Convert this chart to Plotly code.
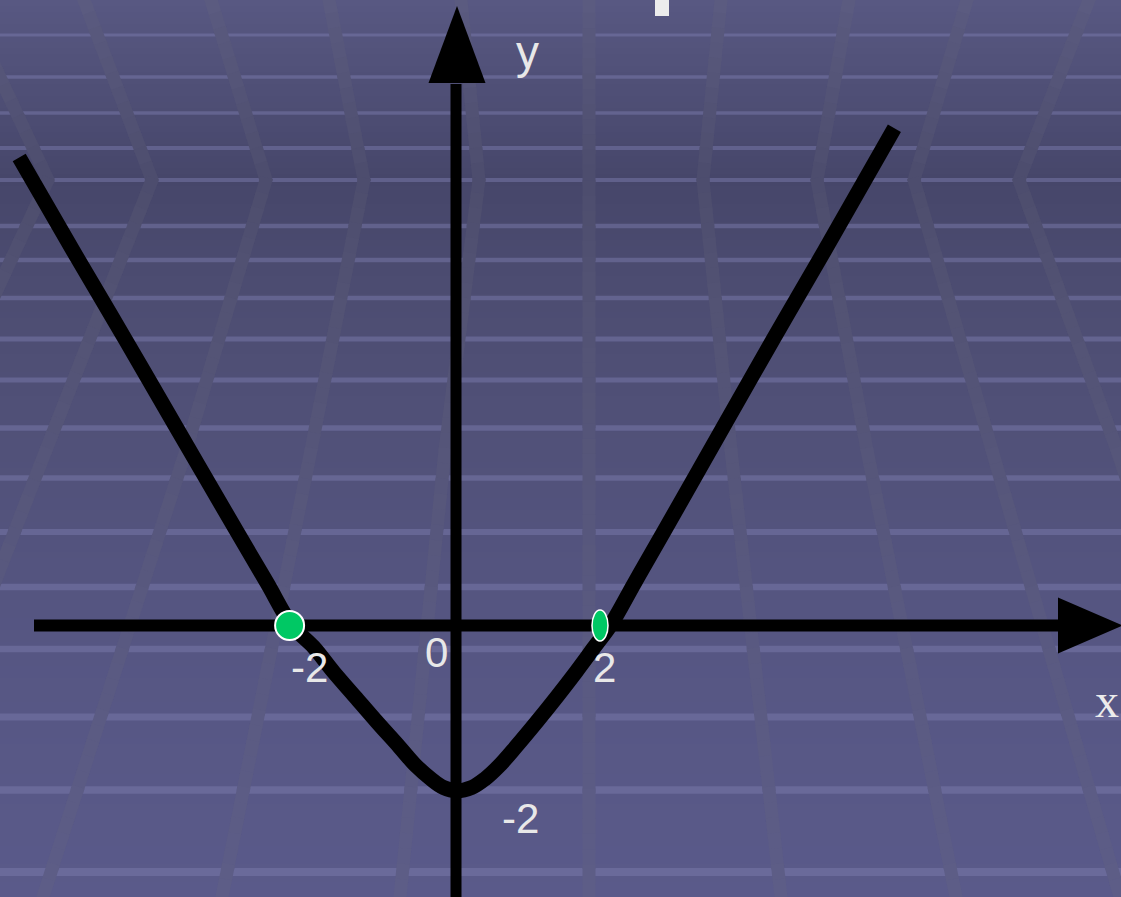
import plotly.graph_objects as go

# ---------------- data ----------------
curve_x = [-5.46, -4.79, -4.13, -3.48, -2.75, -2.36, -2.05,
           -1.78, -1.53, -1.26, -0.99, -0.71, -0.50, -0.31, -0.16,
           0.01,
           0.20, 0.36, 0.54, 0.75, 1.01, 1.26, 1.50, 1.73,
           1.93, 2.23, 2.61, 3.34, 3.96, 4.61, 5.48]
curve_y = [5.64, 4.52, 3.44, 2.36, 1.15, 0.51, 0.00,
           -0.26, -0.56, -0.86, -1.16, -1.46, -1.69, -1.85, -1.95,
           -1.99,
           -1.95, -1.85, -1.69, -1.46, -1.16, -0.86, -0.56, -0.26,
           0.00, 0.51, 1.15, 2.39, 3.44, 4.52, 5.99]

zero_left_x = [-2.08]
zero_left_y = [0.0]
zero_right_x = [1.80]
zero_right_y = [0.0]

x_tick_labels = ["-2", "0", "2"]
x_tick_label_x = [-1.83, -0.24, 1.85]
x_tick_label_y = [-0.51, -0.32, -0.51]
y_tick_labels = ["-2"]
y_tick_label_x = [0.81]
y_tick_label_y = [-2.32]

# ---------------- geometry of the canvas ----------------
W, H = 1121, 897
X0_PX, Y0_PX = 456.0, 625.5     # pixel position of the origin
UX, UY = 80.0, 83.0             # pixels per unit
x_range = [-X0_PX / UX, (W - X0_PX) / UX]
y_range = [(Y0_PX - H) / UY, Y0_PX / UY]


def px2x(px):
    return (px - X0_PX) / UX


def py2y(py):
    return (Y0_PX - py) / UY


def pfx(px):
    return px / W


def pfy(py):
    return 1 - py / H


# background gradient stops (pixel y, rgb)
bg_stops = [(0, (88, 88, 130)), (60, (82, 82, 122)), (180, (70, 70, 106)),
            (300, (77, 77, 114)), (450, (81, 81, 121)), (650, (86, 86, 131)),
            (897, (90, 90, 138))]


def bg(py):
    for (a, ca), (b, cb) in zip(bg_stops[:-1], bg_stops[1:]):
        if a <= py <= b:
            t = (py - a) / (b - a)
            return tuple(ca[i] + (cb[i] - ca[i]) * t for i in range(3))
    return bg_stops[-1][1] if py > 0 else bg_stops[0][1]


def rgb(c):
    return "rgb(%d,%d,%d)" % tuple(int(round(v)) for v in c)


shapes = []
# gradient bands
step = 6
for i in range(0, H, step):
    shapes.append(dict(type="rect", xref="paper", yref="paper", x0=0, x1=1,
                       y0=pfy(min(i + step, H)), y1=pfy(i), layer="below",
                       line=dict(width=0), fillcolor=rgb(bg(i + step / 2))))

# horizontal light lines of the backdrop
hlines = [35, 77, 113, 148, 180, 226, 260, 298, 339, 380, 428, 478, 532, 587, 649, 717, 790, 872]
for py in hlines:
    wdt = 3 + 5 * py / H
    shapes.append(dict(type="line", xref="paper", yref="paper", x0=0, x1=1,
                       y0=pfy(py), y1=pfy(py), layer="below",
                       line=dict(color="rgba(122,122,172,0.5)", width=wdt)))

# faint chevron stripes of the backdrop
stripes = [
    [(-10, 56), (48, 180), (-10, 305)],
    [(84, 0), (152, 180), (46, 450), (-10, 595)],
    [(211, 0), (266, 180), (186, 450), (43, 897)],
    [(329, 0), (364, 180), (311, 450), (222, 897)],
    [(461, 0), (479, 180), (445, 450), (400, 897)],
    [(589, 0), (589, 897)],
    [(721, 0), (703, 180), (731, 450), (781, 897)],
    [(849, 0), (817, 180), (867, 450), (956, 897)],
    [(967, 0), (914, 180), (992, 450), (1120, 897)],
    [(1089, 0), (1019, 180), (1117, 450), (1140, 520)],
]
for pts in stripes:
    for (xa, ya), (xb, yb) in zip(pts[:-1], pts[1:]):
        n = max(1, int(abs(yb - ya) / 15))
        for k in range(n):
            t0, t1 = k / n, (k + 1) / n
            sx0, sy0 = xa + (xb - xa) * t0, ya + (yb - ya) * t0
            sx1, sy1 = xa + (xb - xa) * t1, ya + (yb - ya) * t1
            c = bg((sy0 + sy1) / 2)
            sc = tuple(c[i] * 0.8 + (104, 104, 122)[i] * 0.2 for i in range(3))
            ex = (sx1 - sx0) * 0.15
            ey = (sy1 - sy0) * 0.15
            shapes.append(dict(type="line", xref="paper", yref="paper",
                               x0=pfx(sx0 - ex), y0=pfy(sy0 - ey),
                               x1=pfx(sx1 + ex), y1=pfy(sy1 + ey), layer="below",
                               line=dict(color=rgb(sc), width=13)))

# small white block at the top (cut-off title glyph)
shapes.append(dict(type="rect", xref="paper", yref="paper", x0=pfx(655), x1=pfx(669),
                   y0=pfy(16), y1=1.01, layer="below", line=dict(width=0),
                   fillcolor="#ececec"))

# axes with arrow heads
ax_x_start, ax_x_end = px2x(34), px2x(1061)
shapes.append(dict(type="line", xref="x", yref="y", x0=ax_x_start, x1=ax_x_end, y0=0, y1=0,
                   layer="below", line=dict(color="black", width=12)))
hx0, hx1, hh = px2x(1058), px2x(1123), 28 / UY
shapes.append(dict(type="path", xref="x", yref="y", layer="below",
                   path="M %f,%f L %f,%f L %f,%f Z" % (hx0, hh, hx1, 0, hx0, -hh),
                   fillcolor="black", line=dict(width=0)))
ax_y_start, ax_y_end = y_range[0] - 0.1, py2y(84)
shapes.append(dict(type="line", xref="x", yref="y", x0=0, x1=0, y0=ax_y_start, y1=ax_y_end,
                   layer="below", line=dict(color="black", width=11)))
vy0, vy1 = py2y(83), py2y(6)
shapes.append(dict(type="path", xref="x", yref="y", layer="below",
                   path="M %f,%f L %f,%f L %f,%f Z" % (px2x(428.5), vy0, px2x(457), vy1, px2x(485.5), vy0),
                   fillcolor="black", line=dict(width=0)))

# squeezed green marker at the right zero
for zx, zy in zip(zero_right_x, zero_right_y):
    shapes.append(dict(type="circle", xref="x", yref="y", xsizemode="pixel", ysizemode="pixel",
                       xanchor=zx, yanchor=zy, x0=-8, x1=8, y0=-15.5, y1=15.5, layer="above",
                       fillcolor="#00c864", line=dict(color="white", width=1.5)))

fig = go.Figure()
fig.add_trace(go.Scatter(x=curve_x, y=curve_y, mode="lines",
                         line=dict(color="black", width=15, shape="spline", smoothing=1.0,
                                   simplify=False),
                         hoverinfo="skip", showlegend=False))
fig.add_trace(go.Scatter(x=zero_left_x, y=zero_left_y, mode="markers",
                         marker=dict(size=29, color="#00c864", line=dict(color="white", width=2)),
                         hoverinfo="skip", showlegend=False))

annotations = []
lab_font = dict(family="Liberation Sans, Arial, sans-serif", size=42, color="#e8e8e8")
for t, x, y in zip(x_tick_labels, x_tick_label_x, x_tick_label_y):
    annotations.append(dict(x=x, y=y, xref="x", yref="y", text=t, showarrow=False, font=lab_font))
for t, x, y in zip(y_tick_labels, y_tick_label_x, y_tick_label_y):
    annotations.append(dict(x=x, y=y, xref="x", yref="y", text=t, showarrow=False, font=lab_font))
annotations.append(dict(x=px2x(527), y=py2y(52), xref="x", yref="y", text="y", showarrow=False,
                        font=dict(family="Liberation Sans, Arial, sans-serif", size=46, color="#e8e8e8")))
annotations.append(dict(x=px2x(1107), y=py2y(700), xref="x", yref="y", text="x", showarrow=False,
                        font=dict(family="Liberation Serif, Times New Roman, serif", size=48, color="#ececec")))

fig.update_layout(
    width=W, height=H, autosize=False,
    margin=dict(l=0, r=0, t=0, b=0, pad=0),
    paper_bgcolor=rgb(bg(450)), plot_bgcolor="rgba(0,0,0,0)",
    xaxis=dict(range=x_range, visible=False, showgrid=False, zeroline=False, fixedrange=True),
    yaxis=dict(range=y_range, visible=False, showgrid=False, zeroline=False, fixedrange=True),
    shapes=shapes, annotations=annotations, showlegend=False,
)

fig.write_html("out.html", config=dict(displayModeBar=False),
               post_script="document.body.style.margin='0';document.body.style.overflow='hidden';")
